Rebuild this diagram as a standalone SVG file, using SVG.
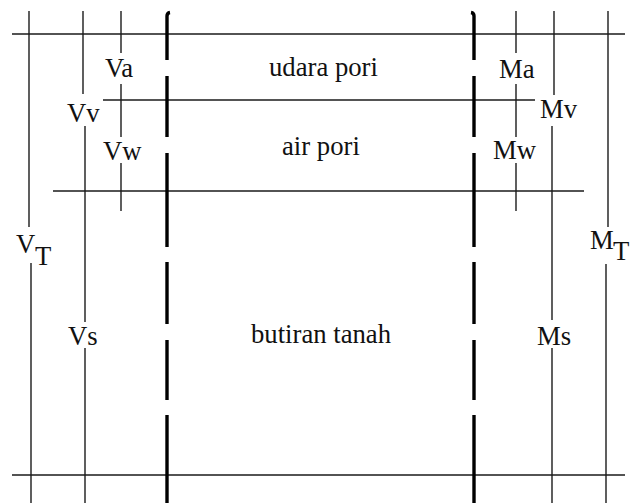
<svg xmlns="http://www.w3.org/2000/svg" width="630" height="503" viewBox="0 0 630 503">
<style>
.thin{stroke:#1a1a1a;stroke-width:1.4;fill:none}
.thick{stroke:#000;stroke-width:3.4;fill:none}
.lbl{font-family:"Liberation Serif","Times New Roman",serif;font-size:26.7px;fill:#111}
</style>
<rect width="630" height="503" fill="#fff"/>
<g id="connectors">
<g id="horizontal-lines" class="thin">
<line x1="12" y1="34" x2="625" y2="34"/>
<line x1="103" y1="100" x2="535" y2="100"/>
<line x1="53" y1="191" x2="584" y2="191"/>
<line x1="12" y1="475" x2="625" y2="475"/>
</g>
<g id="volume-lines" class="thin">
<line x1="29" y1="11" x2="29" y2="227"/>
<line x1="31" y1="263" x2="31" y2="503"/>
<line x1="83" y1="11" x2="83" y2="94"/>
<line x1="85" y1="126" x2="85" y2="322"/>
<line x1="85" y1="348" x2="85" y2="503"/>
<line x1="121" y1="11" x2="121" y2="53"/>
<line x1="121" y1="84" x2="121" y2="137"/>
<line x1="121" y1="163" x2="121" y2="211"/>
</g>
<g id="mass-lines" class="thin">
<line x1="516" y1="11" x2="516" y2="53"/>
<line x1="516" y1="84" x2="516" y2="137"/>
<line x1="516" y1="163" x2="516" y2="211"/>
<line x1="554" y1="11" x2="554" y2="95"/>
<line x1="552" y1="126" x2="552" y2="320"/>
<line x1="552" y1="348" x2="552" y2="503"/>
<line x1="608" y1="11" x2="608" y2="227"/>
<line x1="606" y1="264" x2="606" y2="503"/>
</g>
<g id="dashed-left" class="thick">
<path d="M167,60 V16 Q167,13 170,12.5"/>
<line x1="167" y1="76" x2="167" y2="137"/>
<line x1="167" y1="153" x2="167" y2="247"/>
<line x1="167" y1="262" x2="167" y2="324"/>
<line x1="167" y1="340" x2="167" y2="400"/>
<line x1="167" y1="415" x2="167" y2="503"/>
</g>
<g id="dashed-right" class="thick">
<path d="M474,60 V16 Q474,13 471,12.5"/>
<line x1="474" y1="76" x2="474" y2="137"/>
<line x1="474" y1="153" x2="474" y2="247"/>
<line x1="474" y1="262" x2="474" y2="324"/>
<line x1="474" y1="340" x2="474" y2="400"/>
<line x1="474" y1="415" x2="474" y2="503"/>
</g>
</g>
<g id="phase-udara"><text class="lbl" x="269" y="76">udara pori</text></g>
<g id="phase-air"><text class="lbl" x="282" y="155">air pori</text></g>
<g id="phase-butiran"><text class="lbl" x="251" y="343">butiran tanah</text></g>
<g id="label-Va"><text class="lbl" x="105" y="77">Va</text></g>
<g id="label-Vv"><text class="lbl" x="67" y="122">Vv</text></g>
<g id="label-Vw"><text class="lbl" x="103" y="160">Vw</text></g>
<g id="label-VT"><text class="lbl" x="16" y="253">V<tspan x="35" y="265">T</tspan></text></g>
<g id="label-Vs"><text class="lbl" x="68" y="345">Vs</text></g>
<g id="label-Ma"><text class="lbl" x="499" y="78">Ma</text></g>
<g id="label-Mv"><text class="lbl" x="540" y="118">Mv</text></g>
<g id="label-Mw"><text class="lbl" x="493" y="159">Mw</text></g>
<g id="label-MT"><text class="lbl" x="590" y="249">M<tspan x="613" y="260">T</tspan></text></g>
<g id="label-Ms"><text class="lbl" x="537" y="345">Ms</text></g>
</svg>
